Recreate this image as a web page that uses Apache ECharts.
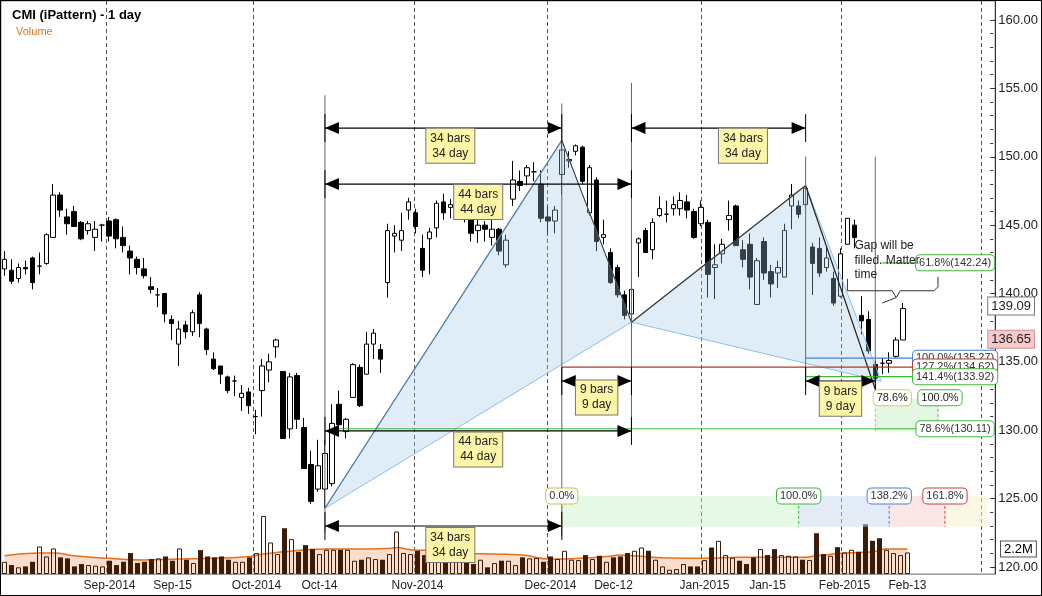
<!DOCTYPE html>
<html><head><meta charset="utf-8">
<script src="https://cdn.jsdelivr.net/npm/echarts@6/dist/echarts.min.js"></script>
<style>html,body{margin:0;padding:0;background:#fff}#c{width:1042px;height:596px;box-sizing:border-box;border:1px solid #000}</style>
</head><body><div id="c"></div>
<script>
// ---- data ----
const opens  = [141.8,141.7,141.1,141.9,142.6,142.0,142.2,144.1,147.2,145.6,146.0,145.2,144.6,144.1,145.0,145.3,145.4,144.1,143.1,142.5,141.8,140.5,139.9,140.0,138.1,136.3,137.7,137.2,139.9,137.4,135.2,134.7,133.9,133.6,132.4,132.8,131.0,132.9,134.4,136.1,134.3,130.1,134.0,130.2,127.5,125.7,125.7,126.1,131.9,129.9,132.4,134.6,134.1,136.3,135.9,140.8,144.2,143.9,146.1,145.9,143.3,144.0,144.8,146.7,146.3,146.2,146.3,145.6,144.6,145.0,144.1,144.7,142.1,146.9,148.2,148.6,148.9,148.0,145.6,145.3,148.7,149.7,150.4,150.7,145.9,148.3,144.1,143.0,141.9,139.9,138.5,143.7,144.6,143.2,145.7,145.8,146.2,146.2,146.7,146.0,145.1,145.2,141.9,142.9,145.4,146.4,143.2,143.6,139.2,143.8,141.6,141.5,141.2,146.4,146.4,146.5,143.4,143.3,141.9,141.1,139.8,143.6,145.0,138.4,138.1,134.8,134.9,134.9,135.4,136.6];
const closes = [142.5,140.9,141.9,141.8,140.8,142.0,144.3,147.2,146.1,145.1,144.9,144.0,145.1,144.7,145.0,144.2,144.0,143.5,142.6,141.9,141.3,140.3,139.9,138.5,137.8,137.4,137.2,138.6,137.8,135.9,134.5,134.1,132.9,133.6,132.7,131.8,131.0,134.7,135.0,136.6,129.4,133.9,130.8,127.2,124.8,127.4,128.3,130.5,130.4,130.8,134.8,131.8,136.3,137.1,135.2,144.6,144.4,144.6,146.7,144.9,141.7,144.5,146.6,145.9,146.5,146.6,146.0,144.4,145.0,144.7,144.7,143.1,143.9,148.3,147.9,149.2,148.9,145.5,145.3,146.1,150.5,149.8,150.8,148.2,149.2,143.8,144.3,140.8,139.9,138.4,140.3,144.0,143.0,145.2,146.2,145.8,146.5,146.8,146.1,144.1,146.3,141.4,142.1,143.6,145.7,143.5,142.5,141.2,142.4,141.5,140.7,141.9,144.6,147.2,145.8,147.7,142.2,141.5,142.6,139.3,142.9,145.5,144.1,138.0,135.8,133.8,134.9,135.1,136.6,138.9];
const lows   = [141.3,140.7,140.8,141.4,140.3,141.4,142.1,144.1,145.6,144.3,144.9,143.9,144.3,143.1,143.8,143.8,143.3,143.0,141.4,141.4,141.1,140.0,139.0,137.9,136.6,134.7,136.7,136.9,136.8,135.5,134.4,133.4,132.7,132.5,131.4,131.2,129.7,131.0,133.5,135.3,129.4,129.4,130.1,127.2,124.6,125.5,124.3,125.9,130.1,129.4,132.4,131.7,134.1,135.2,134.2,139.7,143.0,143.1,145.4,144.4,141.2,141.4,144.1,145.4,145.5,145.6,145.2,143.8,143.7,143.8,143.5,142.8,141.9,146.4,147.5,147.9,148.2,145.2,144.3,144.4,147.2,149.2,150.1,148.0,145.7,143.1,143.6,140.7,139.7,138.1,137.9,141.2,143.0,142.5,145.6,145.2,145.7,145.7,145.5,144.0,144.9,139.7,139.6,142.2,144.6,143.5,141.9,140.3,139.2,141.0,139.7,140.4,141.2,144.7,145.5,146.3,139.9,141.2,141.6,139.1,139.7,143.6,143.3,137.0,135.6,133.0,134.1,134.2,135.3,136.6];
const highs  = [143.1,142.5,142.2,142.4,142.7,143.0,144.4,148.0,147.4,146.2,146.4,145.3,145.3,145.3,145.1,145.6,145.5,144.9,143.5,142.7,142.6,141.2,140.4,140.0,138.4,138.0,138.0,138.8,140.1,137.5,135.7,134.7,134.0,134.0,133.3,133.1,131.5,135.2,135.6,136.7,134.3,134.2,134.2,130.9,128.5,129.3,129.3,131.9,132.9,130.9,134.9,134.8,137.2,137.4,136.3,145.1,145.0,145.9,147.0,146.2,144.3,144.8,146.8,147.3,146.9,147.0,146.8,146.0,145.5,145.3,145.6,144.8,144.3,149.7,149.0,149.4,149.6,149.0,146.4,146.4,151.2,150.4,150.9,150.8,149.4,148.5,145.4,143.3,142.1,140.2,140.3,144.1,144.8,145.5,147.1,146.8,147.1,147.4,147.2,146.2,146.8,145.4,143.6,144.0,146.8,146.5,143.9,144.4,142.6,144.1,142.1,142.4,145.1,148.0,146.8,147.9,143.7,144.1,143.4,141.6,143.3,145.5,145.4,139.8,138.7,135.1,135.3,135.7,136.8,139.3];
const volumes = [1.08,0.79,0.59,0.67,1.08,2.43,1.55,2.26,1.47,1.38,0.67,0.88,0.79,0.73,0.67,1.17,0.79,1.08,1.85,0.97,1.08,1.32,1.38,1.55,1.17,2.26,1.26,0.97,2.11,1.55,1.47,1.55,1.26,1.08,1.08,1.47,1.85,5.13,2.78,1.76,4.04,3.08,1.96,2.55,2.2,1.76,2.14,2.14,2.14,2.14,1.17,1.26,1.47,1.32,1.26,1.76,3.75,1.85,1.76,2.05,1.67,1.6,1.6,1.6,1.32,1.32,0.97,0.88,1.26,0.59,0.97,1.17,1.17,0.79,
 1.47,1.38,1.41,1.08,1.55,1.32,2.05,1.26,1.23,1.67,1.32,1.61,1.08,1.47,1.55,1.85,2.05,2.34,2.05,1.26,0.67,0.38,0.44,0.88,0.67,0.67,1.23,2.34,2.93,1.67,1.44,1.17,0.88,1.47,2.2,1.67,2.2,1.67,1.61,1.55,1.26,1.23,3.6,1.76,1.61,2.37,1.9,2.14,1.96,4.4,2.93,3.16,2.14,1.85,1.67,1.9];
const volumeMA = [[0,1.61],[5,1.85],[7,1.85],[10,1.61],[15,1.38],[20,1.23],[25,1.32],[30,1.38],[35,1.55],[37,1.76],[40,1.96],[43,2.14],[46,2.2],[50,2.2],[55,2.26],[56,2.34],[58,2.14],[62,2.05],[65,1.85],[70,1.76],[74,1.67],[78,1.32],[82,1.38],[86,1.55],[88,1.67],[90,1.61],[95,1.41],[100,1.38],[105,1.47],[110,1.47],[114,1.47],[116,1.61],[120,1.85],[124,1.96],[126,2.2],[129,2.2]];
const totalSlots = 142;
const tickLabels = {15:'Sep-2014',24:'Sep-15',36:'Oct-2014',45:'Oct-14',59:'Nov-2014',78:'Dec-2014',87:'Dec-12',100:'Jan-2015',109:'Jan-15',120:'Feb-2015',129:'Feb-13'};
const monthLines = [15,36,59,78,100,120,140];
const yTicks = {min:120,max:160,interval:5};
const pattern = {X:[46,124.3],A:[80,151.2],B:[90,137.9],C:[115,147.9],D:[125,133.0]};
const measures = [ // from, to, price, labelIdx, labelPrice, text
 [46,80,152.1,64.0,150.8,'34 bars\n34 day'],
 [46,90,148.0,68.0,146.7,'44 bars\n44 day'],
 [90,115,152.1,106.4,150.8,'34 bars\n34 day'],
 [80,90,133.6,85.0,132.4,'9 bars\n9 day'],
 [115,125,133.6,119.7,132.3,'9 bars\n9 day'],
 [46,90,129.95,68.3,128.6,'44 bars\n44 day'],
 [46,80,123.0,63.6,121.6,'34 bars\n34 day']
];
const vLines = [[46,154.5,122.5],[80,153.9,122.3],[90,155.4,130.0],[115,150.0,133.2],[125,150.0,133.2]];
const fibLines = [ // from, to, price, color, label
 [115,130.5,135.27,'#4a7fd4','100.0%(135.27)'],
 [80,130.5,134.62,'#b03a2a','127.2%(134.62)'],
 [115,130.5,133.92,'#3cb83c','141.4%(133.92)'],
 [125.6,130.5,142.24,'#3cb83c','61.8%(142.24)'],
 [47,130.5,130.11,'#3cb83c','78.6%(130.11)']
];
const timeZones = [ // from, to, color, label, labelColor
 [80,113.9,'rgba(200,240,200,0.45)','0.0%','#c8c040'],
 [113.9,126.7,'rgba(200,215,240,0.5)','100.0%','#3cb83c'],
 [126.7,134.9,'rgba(245,205,205,0.5)','138.2%','#4a7fd4'],
 [134.9,141,'rgba(245,240,205,0.55)','161.8%','#c84040']
];
const zoneTop = 125.2, zoneBottom = 122.95;
const lastPrice = 136.65, markPrice = 139.09, volLast = 2.2;

// ---- chart ----
const cats = Array.from({length: totalSlots}, (_, i) => String(i));
const candles = opens.map((o, i) => [o, closes[i], lows[i], highs[i]]);
const volData = volumes.map((v, i) => ({value: v, itemStyle: closes[i] >= opens[i] ?
  {color:'rgba(0,0,0,0)', borderColor:'#3b1c08', borderWidth:1} : {color:'#3b1c08'}}));
const FONT = 'Liberation Sans, Arial, sans-serif';
const hidden = {color:'rgba(0,0,0,0)', width:0};
const chart = echarts.init(document.getElementById('c'));
chart.setOption({
  animation:false,
  textStyle:{fontFamily:FONT},
  title:[{text:'CMI (iPattern) - 1 day', left:6, top:3, textStyle:{fontSize:13, fontWeight:'bold', color:'#000', fontFamily:FONT}},
         {text:'Volume', left:10, top:20, textStyle:{fontSize:11, fontWeight:'normal', color:'#e0731e', fontFamily:FONT}}],
  grid:[{left:0, right:46, top:19, height:547, show:false},
        {left:0, right:46, top:0, bottom:21, show:true, borderColor:'#999', borderWidth:1}],
  xAxis:[
   {type:'category', gridIndex:0, data:cats, boundaryGap:true, show:false},
   {type:'category', gridIndex:1, data:cats, boundaryGap:true,
    axisLine:{lineStyle:{color:'#999'}},
    axisTick:{alignWithLabel:true, interval:(i)=>tickLabels[i]!==undefined, lineStyle:{color:'#333'}},
    axisLabel:{interval:(i)=>tickLabels[i]!==undefined, formatter:(v)=>tickLabels[v]||'', color:'#222', fontSize:12, margin:6, fontFamily:FONT},
    splitLine:{show:true, interval:(i)=>monthLines.includes(i), lineStyle:{type:[4,3], color:'#555'}}}
  ],
  yAxis:[
   {type:'value', gridIndex:0, position:'right', min:yTicks.min, max:yTicks.max, interval:yTicks.interval,
    axisLine:{show:false}, axisTick:{show:true, length:5, lineStyle:{color:'#333'}},
    minorTick:{show:true, splitNumber:5, length:3, lineStyle:{color:'#333'}},
    axisLabel:{formatter:(v)=>v.toFixed(2), color:'#222', fontSize:13, margin:8, fontFamily:FONT}, splitLine:{show:false}},
   {type:'value', gridIndex:1, position:'right', min:0, max:50.6, axisLine:{show:true, lineStyle:{color:'#333'}},
    axisTick:{show:false}, axisLabel:{show:false}, splitLine:{show:false}}
  ],
  series:[
   {type:'line', xAxisIndex:1, yAxisIndex:1, data:volumeMA, smooth:true, symbol:'none', z:0,
    lineStyle:{color:'#e8701a', width:1.5}, areaStyle:{color:'rgba(243,175,130,0.6)'}},
   {type:'bar', xAxisIndex:1, yAxisIndex:1, data:volData, barWidth:5, z:1,
    markLine:{symbol:'none', silent:true, lineStyle:hidden, data:[{yAxis:volLast}],
      label:{show:true, position:'end', formatter:volLast+'M', color:'#000', fontSize:13, backgroundColor:'#fff', borderColor:'#555', borderWidth:1, padding:[1,3], distance:6}}},
   {type:'candlestick', xAxisIndex:0, yAxisIndex:0, data:candles, barWidth:5, z:3,
    itemStyle:{color:'#fff', color0:'#000', borderColor:'#000', borderColor0:'#000', borderWidth:1},
    markLine:{symbol:'none', silent:true, lineStyle:hidden,
      data:[{yAxis:markPrice, label:{formatter:markPrice.toFixed(2), backgroundColor:'#fff', borderColor:'#777'}},
            {yAxis:lastPrice, label:{formatter:lastPrice.toFixed(2), backgroundColor:'#f6c8c8', borderColor:'#c99'}}],
      label:{show:true, position:'end', color:'#222', fontSize:13, borderWidth:1, padding:[2,3], distance:-2}}}
  ]
});

// ---- annotations, placed through the chart's own scales ----
const P = (i, p) => chart.convertToPixel({xAxisIndex:0, yAxisIndex:0}, [i, p]);
const G = [];
const poly = (pts, style, z) => G.push({type:'polygon', shape:{points:pts}, style, z:z||10, silent:true});
const line = (a, b, stroke, w, dash, z) => G.push({type:'line', shape:{x1:a[0],y1:a[1],x2:b[0],y2:b[1]}, style:{stroke, lineWidth:w||1, lineDash:dash||null}, z:z||11, silent:true});
const box = (x, y, text, opt) => G.push({type:'text', x, y, z:20, silent:true, style:Object.assign({text, font:'12px '+FONT, fill:'#222', align:'center', verticalAlign:'middle', backgroundColor:'#fff', borderColor:'#888', borderWidth:1, padding:[2,3]}, opt||{})});

// time zones
timeZones.forEach(([a,b,col,lab,lc]) => {
  const p1 = P(a, zoneTop), p2 = P(b, zoneBottom);
  G.push({type:'rect', shape:{x:p1[0], y:p1[1], width:p2[0]-p1[0], height:p2[1]-p1[1]}, style:{fill:col}, z:5, silent:true});
  line([p1[0], p1[1]], [p1[0], p2[1]], lc, 1, [3,2]);
  box(p1[0], p1[1], lab, {font:'11px '+FONT, borderColor:lc, borderRadius:4, padding:[2,3], fill:'#333'});
});
// small 78.6%-100% zone
{ const a = P(124.7, 132.3), b = P(133.9, 129.95);
  G.push({type:'rect', shape:{x:a[0], y:a[1], width:b[0]-a[0], height:b[1]-a[1]}, style:{fill:'rgba(200,240,200,0.5)'}, z:5, silent:true});
  line([a[0], a[1]], [a[0], b[1]], '#c8c040', 1, [3,2]); line([b[0], a[1]], [b[0], b[1]], '#3cb83c', 1, [3,2]);
  box(a[0]+17, a[1]-1, '78.6%', {font:'11px '+FONT, borderColor:'#d8d040', borderRadius:4});
  box(b[0]+2, a[1]-1, '100.0%', {font:'11px '+FONT, borderColor:'#3cb83c', borderRadius:4}); }

// pattern
const X=P(...pattern.X), A=P(...pattern.A), B=P(...pattern.B), C=P(...pattern.C), D=P(...pattern.D);
poly([X,A,B], {fill:'rgba(160,200,228,0.32)', stroke:'#88bff0', lineWidth:1});
poly([B,C,[D[0]+6,D[1]-8]], {fill:'rgba(160,200,228,0.32)', stroke:'#88bff0', lineWidth:1});
line(X, A, '#4f7fae', 1.2); line(A, B, '#333', 1); line(B, C, '#333', 1.2); line(C, D, '#222', 1.2);

// vertical guide lines
vLines.forEach(([i,p1,p2]) => line(P(i,p1), P(i,p2), '#666', 1));

// fib lines
fibLines.forEach(([a,b,p,col,lab]) => { const s=P(a,p), e=P(b,p); line(s, e, col, 1.2);
  box(e[0]+38, e[1], lab, {font:'11px '+FONT, borderColor:col, borderRadius:4, padding:[2,3], fill:'#333'}); });

// measurement arrows
measures.forEach(([a,b,p,li,lp,txt]) => {
  const s=P(a,p), e=P(b,p), y=s[1];
  line(s, e, '#000', 1.2, null, 12);
  line([s[0],y-14],[s[0],y+14],'#000',1,null,12); line([e[0],y-14],[e[0],y+14],'#000',1,null,12);
  poly([[s[0],y],[s[0]+14,y-6],[s[0]+14,y+6]], {fill:'#000'}, 12);
  poly([[e[0],y],[e[0]-14,y-6],[e[0]-14,y+6]], {fill:'#000'}, 12);
  const l=P(li,lp); box(l[0], l[1], txt, {backgroundColor:'#fbf6a8', borderColor:'#777', lineHeight:15, padding:[2,4]});
});

// gap comment
{ const t=P(121.6,142.4); G.push({type:'text', x:t[0], y:t[1], z:20, silent:true, style:{text:'Gap will be\nfilled. Matter\ntime', font:'12px '+FONT, fill:'#222', lineHeight:14.5, verticalAlign:'middle'}});
  const l=P(121.2,140.2), r=P(133.9,140.2), m=P(127.5,139.7), tip=P(126.2,139.3);
  G.push({type:'polyline', z:20, silent:true, shape:{points:[[l[0],l[1]-12],[l[0],l[1]],[m[0]-4,l[1]],[m[0],m[1]],[m[0]+4,l[1]],[r[0]-4,l[1]],[r[0],l[1]-4],[r[0],l[1]-14]]}, style:{stroke:'#333', fill:null, lineWidth:1}});
  line([m[0],m[1]], tip, '#333', 1, null, 20); }

chart.setOption({graphic:G});
</script></body></html>
